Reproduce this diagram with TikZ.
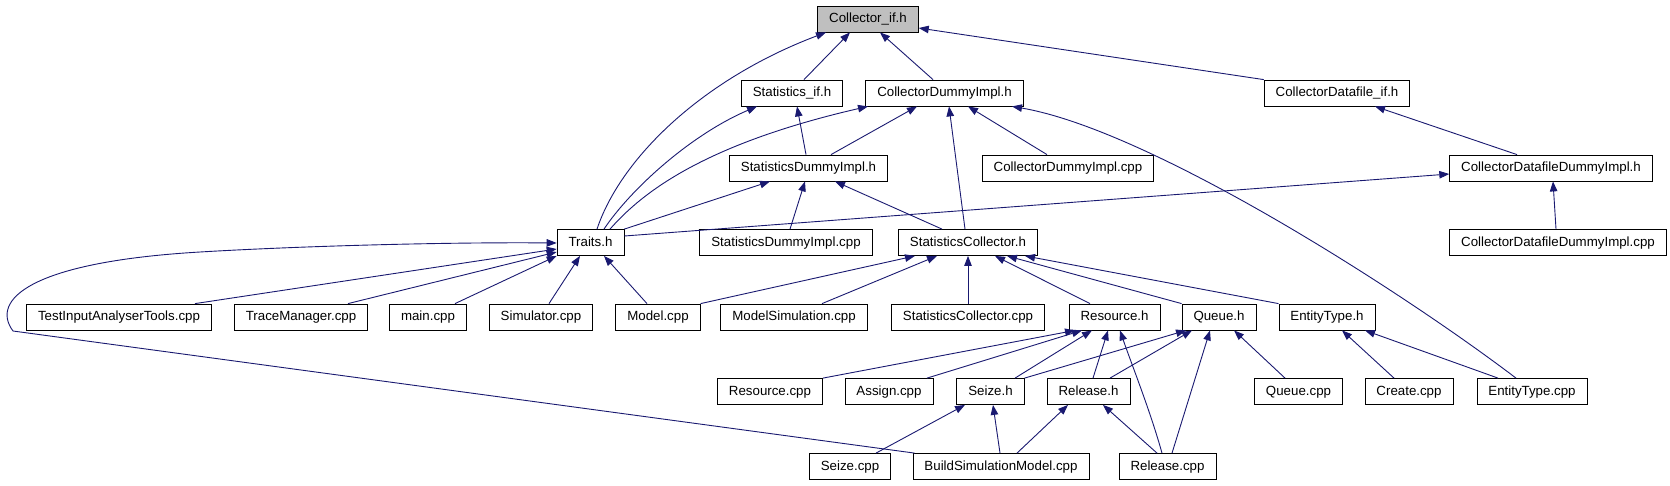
\documentclass[tikz,border=0pt]{standalone}
\usepackage{fontspec}
\setmainfont{Liberation Sans}
\usetikzlibrary{arrows.meta}
\definecolor{edgecol}{RGB}{25,25,112}
\definecolor{rootfill}{RGB}{191,191,191}
\begin{document}
\begin{tikzpicture}[x=1pt,y=-1pt,
 box/.style={draw=black, fill=white, line width=0.8pt, inner xsep=11.5pt, inner ysep=0pt,
   minimum height=26pt, text height=9.8pt, text depth=2.8pt, font=\fontsize{13.3}{16}\selectfont},
 edge/.style={draw=edgecol, line width=0.9pt, -{Triangle[length=10pt,width=7.5pt]}}]
\useasboundingbox (0,0) rectangle (1670,485);
% row 0
\node[box, fill=rootfill] (cif) at (868,19) {Collector\_if.h};
% row 1
\node[box] (statif) at (792,93) {Statistics\_if.h};
\node[box] (cdih) at (944.5,93) {CollectorDummyImpl.h};
\node[box] (cdfif) at (1337,93) {CollectorDatafile\_if.h};
% row 2
\node[box] (sdih) at (808.5,168) {StatisticsDummyImpl.h};
\node[box] (cdicpp) at (1068,168) {CollectorDummyImpl.cpp};
\node[box] (cdfdh) at (1551,168) {CollectorDatafileDummyImpl.h};
% row 3
\node[box] (traits) at (590.5,242.5) {Traits.h};
\node[box] (sdicpp) at (786,242.5) {StatisticsDummyImpl.cpp};
\node[box] (sch) at (968,242.5) {StatisticsCollector.h};
\node[box] (cdfdcpp) at (1558,242.5) {CollectorDatafileDummyImpl.cpp};
% row 4
\node[box] (tiat) at (119,317) {TestInputAnalyserTools.cpp};
\node[box] (trace) at (301,317) {TraceManager.cpp};
\node[box] (mainc) at (428,317) {main.cpp};
\node[box] (sim) at (541,317) {Simulator.cpp};
\node[box] (model) at (658,317) {Model.cpp};
\node[box] (msim) at (794,317) {ModelSimulation.cpp};
\node[box] (sccpp) at (968,317) {StatisticsCollector.cpp};
\node[box] (resh) at (1114.5,317) {Resource.h};
\node[box] (queueh) at (1219,317) {Queue.h};
\node[box] (eth) at (1327,317) {EntityType.h};
% row 5
\node[box] (rescpp) at (770,391.5) {Resource.cpp};
\node[box] (assign) at (889,391.5) {Assign.cpp};
\node[box] (seizeh) at (990.5,391.5) {Seize.h};
\node[box] (relh) at (1088.5,391.5) {Release.h};
\node[box] (queuecpp) at (1298.5,391.5) {Queue.cpp};
\node[box] (create) at (1409,391.5) {Create.cpp};
\node[box] (etcpp) at (1532,391.5) {EntityType.cpp};
% row 6
\node[box] (seizecpp) at (850,466.5) {Seize.cpp};
\node[box] (build) at (1001,466.5) {BuildSimulationModel.cpp};
\node[box] (relcpp) at (1167.5,466.5) {Release.cpp};

% edges into Collector_if.h
\draw[edge] (statif.north -| 804,0) -- (cif.south -| 850,0);
\draw[edge] (cdih.north -| 933,0) -- (cif.south -| 880,0);
\draw[edge] (cdfif.north west) -- (cif.east |- 0,28);
\draw[edge] (traits.north -| 597,0) .. controls (620,160) and (700,80) .. (cif.south -| 826,0);
% edges into Statistics_if.h
\draw[edge] (traits.north -| 604,0) .. controls (630,190) and (690,135) .. (statif.south -| 757,0);
\draw[edge] (sdih.north -| 806,0) -- (statif.south -| 797,0);
% edges into CollectorDummyImpl.h
\draw[edge] (traits.north -| 610,0) .. controls (640,195) and (700,145) .. (cdih.south -| 868,0);
\draw[edge] (sdih.north -| 831,0) -- (cdih.south -| 917,0);
\draw[edge] (sch.north -| 965,0) -- (cdih.south -| 949,0);
\draw[edge] (cdicpp.north -| 1047,0) -- (cdih.south -| 968,0);
\draw[edge] (etcpp.north -| 1516,0) .. controls (1400,290) and (1150,130) .. (cdih.south -| 1012,0);
% CollectorDatafile
\draw[edge] (cdfdh.north -| 1517,0) -- (cdfif.south -| 1375,0);
\draw[edge] (traits.east |- 0,236) -- (cdfdh.west |- 0,174);
\draw[edge] (cdfdcpp.north -| 1556,0) -- (cdfdh.south -| 1553,0);
% StatisticsDummyImpl.h
\draw[edge] (traits.north east) -- (sdih.south -| 770,0);
\draw[edge] (sdicpp.north -| 790,0) -- (sdih.south -| 805,0);
\draw[edge] (sch.north -| 942,0) -- (sdih.south -| 835,0);
% Traits.h
\draw[edge] (tiat.north -| 195,0) -- (traits.west |- 0,249);
\draw[edge] (trace.north -| 348,0) -- (traits.west |- 0,252);
\draw[edge] (mainc.north -| 455,0) -- (traits.south west);
\draw[edge] (sim.north -| 549,0) -- (traits.south -| 580,0);
\draw[edge] (model.north -| 647,0) -- (traits.south -| 604,0);
\draw[edge] ([xshift=2pt]build.north west) -- (13,331)
  .. controls (-10,300) and (30,262) .. (200,252)
  .. controls (300,246) and (450,242) .. (traits.west |- 0,243);
% StatisticsCollector.h
\draw[edge] (model.north east) -- (sch.south -| 915,0);
\draw[edge] (msim.north -| 822,0) -- (sch.south -| 937,0);
\draw[edge] (sccpp.north -| 968,0) -- (sch.south -| 968,0);
\draw[edge] (resh.north -| 1090,0) -- (sch.south -| 995,0);
\draw[edge] (queueh.north west) -- (sch.south -| 1007,0);
\draw[edge] (eth.north west) -- (sch.south -| 1025,0);
% Resource.h
\draw[edge] (rescpp.north east) -- (resh.south -| 1075,0);
\draw[edge] (assign.north -| 927,0) -- (resh.south -| 1082,0);
\draw[edge] (seizeh.north -| 1015,0) -- (resh.south -| 1092,0);
\draw[edge] (relh.north -| 1093,0) -- (resh.south -| 1108,0);
\draw[edge] (relcpp.north -| 1162,0) .. controls (1150,410) and (1130,360) .. (resh.south -| 1120,0);
% Queue.h
\draw[edge] (seizeh.north east) -- (queueh.south -| 1186,0);
\draw[edge] (relh.north -| 1110,0) -- (queueh.south -| 1192,0);
\draw[edge] (relcpp.north -| 1172,0) -- (queueh.south -| 1210,0);
\draw[edge] (queuecpp.north -| 1285,0) -- (queueh.south -| 1234,0);
% EntityType.h
\draw[edge] (create.north -| 1394,0) -- (eth.south -| 1342,0);
\draw[edge] (etcpp.north -| 1498,0) -- (eth.south -| 1365,0);
% Seize.h / Release.h
\draw[edge] (seizecpp.north -| 876,0) -- (seizeh.south -| 965,0);
\draw[edge] (build.north -| 1000,0) -- (seizeh.south -| 993,0);
\draw[edge] (build.north -| 1017,0) -- (relh.south -| 1068,0);
\draw[edge] (relcpp.north -| 1157,0) -- (relh.south -| 1103,0);
\end{tikzpicture}
\end{document}
